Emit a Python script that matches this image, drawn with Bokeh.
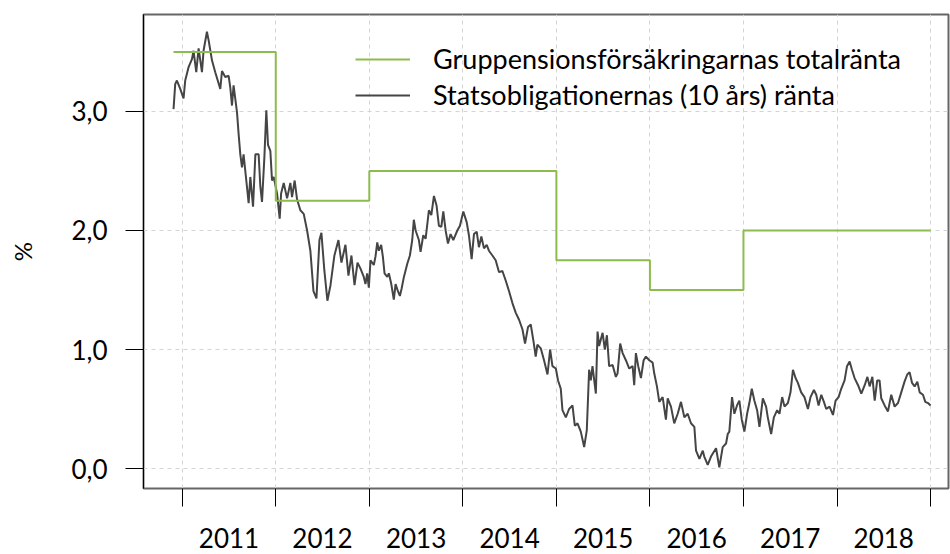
from bokeh.plotting import figure
from bokeh.models import FixedTicker, Legend, LegendItem
from bokeh.embed import file_html
from bokeh.resources import INLINE

# ---- data ----
bond_year = [
    2010.907, 2010.925, 2010.943, 2010.979, 2011.014, 2011.032, 2011.067, 2011.104, 2011.121, 2011.150,
    2011.175, 2011.211, 2011.228, 2011.264, 2011.282, 2011.318, 2011.353, 2011.407, 2011.425, 2011.460,
    2011.496, 2011.514, 2011.532, 2011.549, 2011.586, 2011.603, 2011.621, 2011.639, 2011.656, 2011.685,
    2011.710, 2011.728, 2011.757, 2011.782, 2011.817, 2011.835, 2011.853, 2011.878, 2011.899, 2011.917,
    2011.942, 2011.960, 2011.978, 2011.996, 2012.014, 2012.042, 2012.057, 2012.085, 2012.121, 2012.156,
    2012.174, 2012.202, 2012.228, 2012.263, 2012.299, 2012.335, 2012.370, 2012.403, 2012.435, 2012.467,
    2012.488, 2012.520, 2012.552, 2012.585, 2012.627, 2012.670, 2012.702, 2012.745, 2012.777, 2012.809,
    2012.842, 2012.874, 2012.906, 2012.941, 2012.959, 2012.977, 2012.995, 2013.013, 2013.048, 2013.066,
    2013.085, 2013.102, 2013.127, 2013.145, 2013.163, 2013.192, 2013.209, 2013.235, 2013.262, 2013.281,
    2013.306, 2013.327, 2013.345, 2013.370, 2013.406, 2013.434, 2013.459, 2013.476, 2013.495, 2013.530,
    2013.548, 2013.577, 2013.602, 2013.637, 2013.663, 2013.691, 2013.719, 2013.744, 2013.770, 2013.791,
    2013.816, 2013.841, 2013.869, 2013.898, 2013.941, 2013.969, 2014.005, 2014.041, 2014.065, 2014.094,
    2014.119, 2014.148, 2014.172, 2014.198, 2014.226, 2014.255, 2014.279, 2014.316, 2014.351, 2014.387,
    2014.423, 2014.458, 2014.494, 2014.530, 2014.565, 2014.601, 2014.637, 2014.665, 2014.697, 2014.726,
    2014.755, 2014.779, 2014.797, 2014.833, 2014.868, 2014.905, 2014.933, 2014.958, 2014.994, 2015.018,
    2015.047, 2015.065, 2015.101, 2015.136, 2015.172, 2015.197, 2015.226, 2015.261, 2015.297, 2015.325,
    2015.350, 2015.368, 2015.386, 2015.422, 2015.440, 2015.457, 2015.494, 2015.518, 2015.540, 2015.564,
    2015.601, 2015.636, 2015.654, 2015.682, 2015.708, 2015.743, 2015.779, 2015.815, 2015.832, 2015.850,
    2015.875, 2015.904, 2015.933, 2015.957, 2015.993, 2016.029, 2016.046, 2016.075, 2016.100, 2016.136,
    2016.171, 2016.190, 2016.225, 2016.260, 2016.297, 2016.332, 2016.368, 2016.404, 2016.439, 2016.475,
    2016.493, 2016.529, 2016.565, 2016.581, 2016.618, 2016.653, 2016.707, 2016.742, 2016.778, 2016.814,
    2016.832, 2016.849, 2016.878, 2016.903, 2016.931, 2016.956, 2016.982, 2017.010, 2017.039, 2017.063,
    2017.089, 2017.117, 2017.146, 2017.171, 2017.207, 2017.242, 2017.260, 2017.296, 2017.325, 2017.360,
    2017.385, 2017.414, 2017.439, 2017.475, 2017.503, 2017.529, 2017.557, 2017.582, 2017.617, 2017.652,
    2017.689, 2017.717, 2017.753, 2017.778, 2017.803, 2017.832, 2017.860, 2017.885, 2017.920, 2017.957,
    2017.985, 2018.017, 2018.045, 2018.081, 2018.107, 2018.135, 2018.160, 2018.188, 2018.225, 2018.260,
    2018.296, 2018.325, 2018.349, 2018.378, 2018.403, 2018.430, 2018.455, 2018.473, 2018.509, 2018.545,
    2018.580, 2018.616, 2018.652, 2018.687, 2018.722, 2018.751, 2018.776, 2018.802, 2018.830, 2018.859,
    2018.884, 2018.919, 2018.944, 2018.973, 2019.000,
]
bond_rate = [
    3.02, 3.23, 3.26, 3.19, 3.11, 3.26, 3.37, 3.44, 3.51, 3.33,
    3.53, 3.33, 3.51, 3.67, 3.60, 3.43, 3.33, 3.19, 3.34, 3.29,
    3.30, 3.20, 3.05, 3.22, 2.99, 2.81, 2.64, 2.53, 2.64, 2.42,
    2.23, 2.45, 2.20, 2.64, 2.64, 2.37, 2.24, 2.61, 3.01, 2.72,
    2.67, 2.42, 2.45, 2.38, 2.31, 2.10, 2.31, 2.40, 2.27, 2.40,
    2.28, 2.42, 2.26, 2.17, 2.14, 2.00, 1.83, 1.49, 1.43, 1.92,
    1.98, 1.66, 1.41, 1.54, 1.79, 1.92, 1.73, 1.88, 1.62, 1.79,
    1.54, 1.73, 1.68, 1.61, 1.55, 1.64, 1.52, 1.75, 1.71, 1.78,
    1.90, 1.83, 1.88, 1.78, 1.64, 1.61, 1.64, 1.55, 1.42, 1.55,
    1.49, 1.45, 1.51, 1.61, 1.72, 1.79, 1.92, 2.09, 2.00, 1.92,
    1.82, 1.96, 1.93, 2.17, 2.13, 2.29, 2.21, 2.04, 2.03, 2.16,
    2.00, 1.89, 1.97, 1.92, 2.00, 2.04, 2.16, 2.07, 1.96, 1.76,
    1.97, 1.99, 1.86, 1.95, 1.85, 1.88, 1.83, 1.79, 1.75, 1.65,
    1.66, 1.58, 1.49, 1.39, 1.31, 1.25, 1.17, 1.05, 1.19, 1.21,
    1.07, 0.94, 1.04, 1.01, 0.91, 0.79, 1.00, 0.86, 0.84, 0.74,
    0.67, 0.49, 0.43, 0.50, 0.53, 0.36, 0.38, 0.31, 0.18, 0.32,
    0.83, 0.74, 0.86, 0.63, 1.15, 1.03, 1.14, 1.00, 1.12, 0.86,
    0.87, 0.77, 0.80, 1.05, 0.97, 0.91, 0.84, 0.86, 0.70, 0.97,
    0.86, 0.76, 0.91, 0.94, 0.91, 0.89, 0.80, 0.69, 0.56, 0.60,
    0.41, 0.59, 0.52, 0.38, 0.46, 0.56, 0.43, 0.46, 0.38, 0.35,
    0.15, 0.08, 0.15, 0.10, 0.03, 0.10, 0.17, 0.01, 0.18, 0.21,
    0.29, 0.31, 0.60, 0.46, 0.53, 0.57, 0.41, 0.31, 0.46, 0.55,
    0.67, 0.57, 0.49, 0.35, 0.59, 0.52, 0.43, 0.29, 0.43, 0.49,
    0.46, 0.60, 0.52, 0.55, 0.64, 0.83, 0.76, 0.72, 0.64, 0.60,
    0.50, 0.60, 0.66, 0.62, 0.53, 0.62, 0.56, 0.50, 0.52, 0.45,
    0.57, 0.60, 0.67, 0.74, 0.86, 0.90, 0.83, 0.76, 0.70, 0.63,
    0.70, 0.77, 0.69, 0.77, 0.57, 0.74, 0.74, 0.59, 0.53, 0.48,
    0.62, 0.52, 0.55, 0.64, 0.73, 0.79, 0.81, 0.72, 0.69, 0.73,
    0.64, 0.62, 0.56, 0.55, 0.53,
]

group_year = [2010.907, 2012.0, 2013.0, 2015.0, 2016.0, 2017.0, 2019.0]
group_rate = [3.50, 2.25, 2.50, 1.75, 1.50, 2.00, 2.00]

year_bounds = [2011, 2012, 2013, 2014, 2015, 2016, 2017, 2018, 2019]
year_labels = ["2011", "2012", "2013", "2014", "2015", "2016", "2017", "2018"]
y_ticks = [0, 1, 2, 3]
y_labels = ["0,0", "1,0", "2,0", "3,0"]
legend_labels = ["Gruppensionsförsäkringarnas totalränta",
                 "Statsobligationernas (10 års) ränta"]

GREEN = "#8dbb4e"
DARK = "#454545"
GRID = "#d4d4d4"
FONT = "Lato"

p = figure(width=950, height=554, output_backend="svg", toolbar_location=None,
           title=None,
           x_range=(2010.586, 2019.192), y_range=(-0.168, 3.815),
           min_border_left=143, min_border_right=2, min_border_top=14,
           min_border_bottom=66)
p.background_fill_color = "white"
p.border_fill_color = "white"
p.outline_line_color = "#666666"
p.outline_line_width = 2

r_bond = p.line(bond_year, bond_rate, line_color=DARK, line_width=2)
r_group = p.step(group_year, group_rate, mode="after", line_color=GREEN, line_width=2)

# x axis: labels mid-year, ticks at year boundaries
mid_years = [y + 0.5 for y in year_bounds[:-1]]
xticker = FixedTicker(ticks=mid_years, minor_ticks=year_bounds)
p.xaxis.ticker = xticker
p.xgrid.ticker = xticker
p.xaxis.major_label_overrides = {m: lab for m, lab in zip(mid_years, year_labels)}
p.xaxis.major_tick_out = 0
p.xaxis.major_tick_in = 0
p.xaxis.minor_tick_out = 18
p.xaxis.minor_tick_in = 0
p.xaxis.minor_tick_line_color = "black"
p.xaxis.axis_line_color = None
p.xaxis.major_label_standoff = 21
p.xaxis.major_label_text_font = FONT
p.xaxis.major_label_text_font_size = "26px"
p.xaxis.major_label_text_color = "black"
p.xgrid.grid_line_color = None
p.xgrid.minor_grid_line_color = GRID
p.xgrid.minor_grid_line_dash = "4 4"

# y axis
yticker = FixedTicker(ticks=y_ticks, minor_ticks=[])
p.yaxis.ticker = yticker
p.ygrid.ticker = yticker
p.yaxis.major_label_overrides = {t: lab for t, lab in zip(y_ticks, y_labels)}
p.yaxis.major_tick_out = 18
p.yaxis.major_tick_in = 0
p.yaxis.major_tick_line_color = "black"
p.yaxis.axis_line_color = "black"
p.yaxis.major_label_standoff = 18
p.yaxis.major_label_text_font = FONT
p.yaxis.major_label_text_font_size = "26px"
p.yaxis.major_label_text_color = "black"
p.yaxis.axis_label = "%"
p.yaxis.axis_label_text_font = FONT
p.yaxis.axis_label_text_font_size = "24px"
p.yaxis.axis_label_text_font_style = "normal"
p.yaxis.axis_label_text_color = "black"
p.yaxis.axis_label_standoff = 31
p.ygrid.grid_line_color = GRID
p.ygrid.grid_line_dash = "4 4"

legend = Legend(items=[LegendItem(label=legend_labels[0], renderers=[r_group]),
                       LegendItem(label=legend_labels[1], renderers=[r_bond])],
                location=(212, 377), padding=0, margin=0, spacing=3,
                glyph_width=55, glyph_height=32, label_height=32,
                label_standoff=23, border_line_color=None,
                background_fill_alpha=0,
                label_text_font=FONT, label_text_font_size="27px",
                label_text_color="black")
p.add_layout(legend)

open("out.html", "w").write(file_html(p, INLINE))
